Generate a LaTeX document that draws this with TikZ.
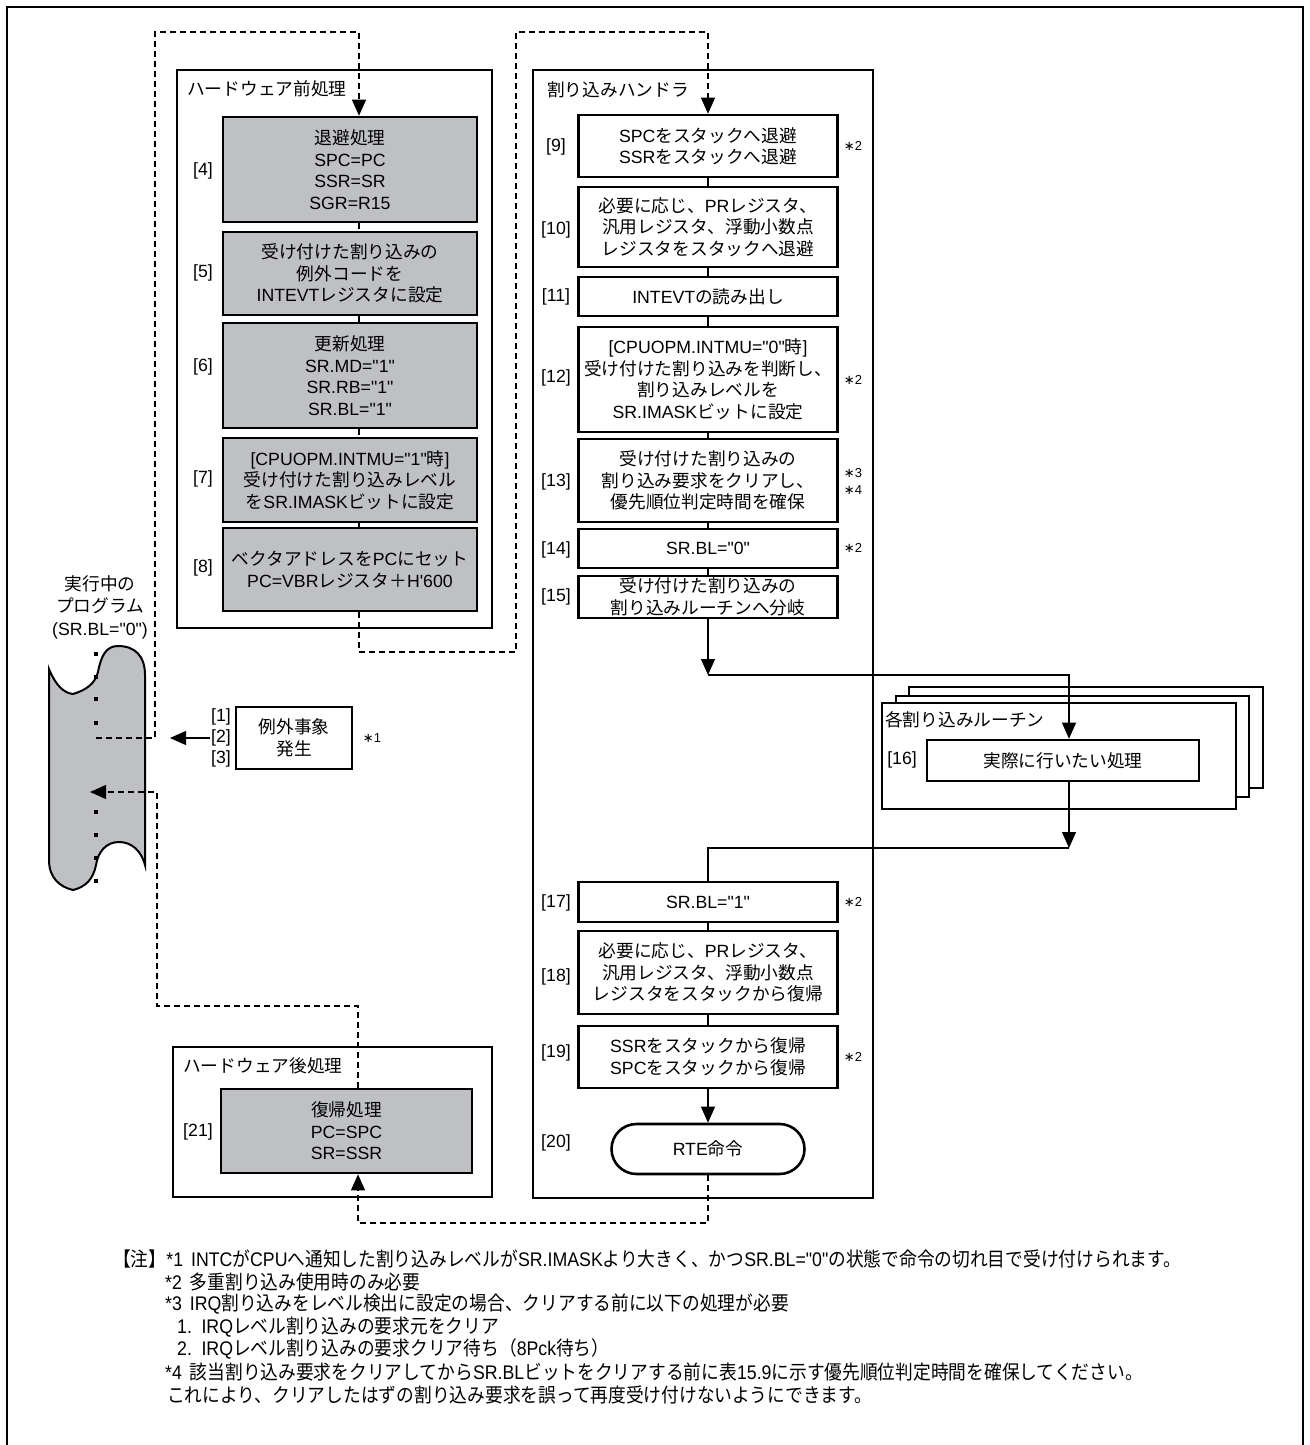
\documentclass[tikz,border=0pt]{standalone}
\usepackage{fontspec}
\setmainfont{Liberation Sans}
\newfontfamily\latinfont{Liberation Sans}
\newfontfamily\jafont{Noto Sans CJK JP}
\newfontfamily\symfont{DejaVu Sans}
\newfontfamily\notelatin[FakeStretch=0.9]{Liberation Sans}
\newfontfamily\noteja[FakeStretch=0.9]{Noto Sans CJK JP}
\usetikzlibrary{arrows.meta}

% switch to the Japanese font for CJK characters
\XeTeXinterchartokenstate=1
\chardef\jaclass=7
\newcount\jacnt
\newcommand\jarange[2]{\jacnt=#1\relax
  \loop\XeTeXcharclass\jacnt=\jaclass
  \ifnum\jacnt<#2\relax\advance\jacnt by 1\relax\repeat}
\jarange{"3000}{"30FF}
\jarange{"4E00}{"9FFF}
\jarange{"FF00}{"FFEF}
\newcommand\jaon{\jafont}
\newcommand\jaoff{\latinfont}
\XeTeXinterchartoks 0 \jaclass = {\jaon}
\XeTeXinterchartoks 4095 \jaclass = {\jaon}
\XeTeXinterchartoks \jaclass 0 = {\jaoff}
\XeTeXinterchartoks \jaclass 4095 = {\jaoff}

\definecolor{boxgray}{RGB}{190,192,196}
\newcommand\boxfont{\fontsize{17.7}{21.5}\selectfont\latinfont}
\newcommand\progfont{\fontsize{17.7}{22.5}\selectfont\latinfont}
\newcommand\starfont{\fontsize{13}{14}\selectfont\latinfont}
\newcommand\notefont{\fontsize{19.7}{23}\selectfont\let\jaon\noteja\let\jaoff\notelatin\notelatin}
\newcommand\notemark[1]{{\symfont ∗}#1}

\begin{document}
\begin{tikzpicture}[x=1pt,y=-1pt,
    box/.style={draw,line width=2.6pt,align=center,inner sep=0pt,font=\boxfont},
    gbox/.style={box,fill=boxgray},
    wbox/.style={box,fill=white},
    frame/.style={draw,line width=2.6pt},
    num/.style={inner sep=1pt,font=\boxfont},
    ttl/.style={anchor=west,inner sep=0pt,font=\boxfont},
    fnote/.style={inner sep=0pt,font=\starfont},
    note/.style={anchor=west,inner sep=0pt,font=\notefont},
    flow/.style={line width=1.2pt},
    dline/.style={line width=1.2pt,dash pattern=on 6pt off 4pt},
    arr/.style={-{Triangle[length=16pt,width=14pt]}}]
  \useasboundingbox (0,0) rectangle (1309,1445);
  % outer frame
  \draw[line width=2.4pt] (7,1445) -- (7,7) -- (1303,7) -- (1303,1445);

  % running program
  \draw[line width=2pt,fill=boxgray] (49,669) .. controls (56,686) and (64,693) .. (73,694)
    .. controls (86,690) and (95,684) .. (98,672) .. controls (101,656) and (106,646) .. (118,646)
    .. controls (135,646) and (145,656) .. (145,675) -- (145,865)
    .. controls (141,850) and (131,842) .. (119,842) .. controls (106,842) and (98,852) .. (96,865)
    .. controls (93,880) and (85,887) .. (73,890) .. controls (60,887) and (49,878) .. (49,860) -- cycle;
  \foreach \y in {654,677,699,723,812,835,858,881}
    \fill (96,\y) +(-1.6,-1.6) rectangle +(1.6,1.6);
  \node[align=center,font=\progfont] (prog) at (100,607) {実行中の\\プログラム\\(SR.BL="0")};

  % containers
  \node[frame,minimum width=315,minimum height=558] (hpre) at (334.5,349) {};
  \node[ttl] (tpre) at (187,89) {ハードウェア前処理};
  \node[frame,minimum width=340,minimum height=1128] (hand) at (703,634) {};
  \node[ttl] (thand) at (547,90) {割り込みハンドラ};
  \node[frame,minimum width=319,minimum height=150] (hpost) at (332.5,1122) {};
  \node[ttl] (tpost) at (183,1066) {ハードウェア後処理};
  \draw[frame,fill=white] (909,687) rectangle (1263,788);
  \draw[frame,fill=white] (896,696) rectangle (1249,797);
  \node[frame,fill=white,minimum width=354,minimum height=106] (rt) at (1059,756) {};
  \node[ttl] (trt) at (885,720) {各割り込みルーチン};

  % connectors
  \coordinate (p1) at (96,738);
  \coordinate (d1) at (155,32);
  \coordinate (d2) at (516,652);
  \coordinate (d3) at (516,32);
  \coordinate (d4) at (358,1223);
  \coordinate (d5) at (157,1006);
  \coordinate (p2) at (90,792);
  \coordinate (p3) at (170,738);
  \coordinate (q1) at (708,675);
  \coordinate (q2) at (1069,848);

  % hardware pre-processing
  \node[gbox,minimum width=254,minimum height=105] (n4) at (350,169.5) {退避処理\\SPC=PC\\SSR=SR\\SGR=R15};
  \node[gbox,minimum width=254,minimum height=83] (n5) at (350,273.5) {受け付けた割り込みの\\例外コードを\\INTEVTレジスタに設定};
  \node[gbox,minimum width=254,minimum height=105] (n6) at (350,375.5) {更新処理\\SR.MD="1"\\SR.RB="1"\\SR.BL="1"};
  \node[gbox,minimum width=254,minimum height=84] (n7) at (350,480) {[CPUOPM.INTMU="1"時]\\受け付けた割り込みレベル\\をSR.IMASKビットに設定};
  \node[gbox,minimum width=254,minimum height=83] (n8) at (350,569.5) {ベクタアドレスをPCにセット\\PC=VBRレジスタ＋H\char"27 600};
  \node[num] (l4) at (203,171) {[4]};
  \node[num] (l5) at (203,273) {[5]};
  \node[num] (l6) at (203,367) {[6]};
  \node[num] (l7) at (203,479) {[7]};
  \node[num] (l8) at (203,568) {[8]};

  % exception
  \node[wbox,minimum width=116,minimum height=62] (exc) at (294,738) {例外事象\\発生};
  \node[num] (l1) at (221,717) {[1]};
  \node[num] (l2) at (221,738) {[2]};
  \node[num] (l3) at (221,759) {[3]};
  \node[fnote] (s1) at (372,738) {\notemark{1}};

  % interrupt handler
  \node[wbox,minimum width=259,minimum height=62] (n9) at (708,146) {SPCをスタックへ退避\\SSRをスタックへ退避};
  \node[wbox,minimum width=259,minimum height=80] (n10) at (708,227) {必要に応じ、PRレジスタ、\\汎用レジスタ、浮動小数点\\レジスタをスタックへ退避};
  \node[wbox,minimum width=259,minimum height=39] (n11) at (708,296.5) {INTEVTの読み出し};
  \node[wbox,minimum width=259,minimum height=105] (n12) at (708,379.5) {[CPUOPM.INTMU="0"時]\\受け付けた割り込みを判断し、\\割り込みレベルを\\SR.IMASKビットに設定};
  \node[wbox,minimum width=259,minimum height=83] (n13) at (708,480.5) {受け付けた割り込みの\\割り込み要求をクリアし、\\優先順位判定時間を確保};
  \node[wbox,minimum width=259,minimum height=39] (n14) at (708,548.5) {SR.BL="0"};
  \node[wbox,minimum width=259,minimum height=42] (n15) at (708,597) {受け付けた割り込みの\\割り込みルーチンへ分岐};
  \node[wbox,minimum width=272,minimum height=41] (n16) at (1063,760.5) {実際に行いたい処理};
  \node[wbox,minimum width=259,minimum height=40] (n17) at (708,902) {SR.BL="1"};
  \node[wbox,minimum width=259,minimum height=83] (n18) at (708,972.5) {必要に応じ、PRレジスタ、\\汎用レジスタ、浮動小数点\\レジスタをスタックから復帰};
  \node[wbox,minimum width=259,minimum height=62] (n19) at (708,1057) {SSRをスタックから復帰\\SPCをスタックから復帰};
  \node[wbox,rounded corners=25pt,minimum width=193,minimum height=50] (rte) at (708,1149) {RTE命令};
  \node[num] (l9) at (556,147) {[9]};
  \node[num] (l10) at (556,230) {[10]};
  \node[num] (l11) at (556,297) {[11]};
  \node[num] (l12) at (556,378) {[12]};
  \node[num] (l13) at (556,482) {[13]};
  \node[num] (l14) at (556,550) {[14]};
  \node[num] (l15) at (556,597) {[15]};
  \node[num] (l16) at (902,760) {[16]};
  \node[num] (l17) at (556,903) {[17]};
  \node[num] (l18) at (556,977) {[18]};
  \node[num] (l19) at (556,1053) {[19]};
  \node[num] (l20) at (556,1143) {[20]};
  \node[fnote] (s9) at (853,146) {\notemark{2}};
  \node[fnote] (s12) at (853,380) {\notemark{2}};
  \node[fnote] (s13a) at (853,473) {\notemark{3}};
  \node[fnote] (s13b) at (853,490) {\notemark{4}};
  \node[fnote] (s14) at (853,548) {\notemark{2}};
  \node[fnote] (s17) at (853,902) {\notemark{2}};
  \node[fnote] (s19) at (853,1057) {\notemark{2}};

  % hardware post-processing
  \node[gbox,minimum width=251,minimum height=84] (n21) at (346.5,1131) {復帰処理\\PC=SPC\\SR=SSR};
  \node[num] (l21) at (198,1132) {[21]};

  % dashed flow
  \draw[dline,arr] (p1) -| (d1) -| ([xshift=9pt]n4.north);
  \foreach \a/\b in {n4/n5,n5/n6,n6/n7,n7/n8}
    \draw[dline] ([xshift=9pt]\a.south) -- ([xshift=9pt]\b.north);
  \draw[dline,arr] ([xshift=9pt]n8.south) |- (d2) -- (d3) -| (n9.north);
  \draw[dline,arr] (rte.south) |- (d4) -- ([xshift=11.5pt]n21.south);
  \draw[dline,arr] ([xshift=11.5pt]n21.north) |- (d5) |- (p2);

  % solid flow
  \draw[flow,arr] (l2.west) -- (p3);
  \foreach \a/\b in {n9/n10,n10/n11,n11/n12,n12/n13,n13/n14,n14/n15,n17/n18,n18/n19}
    \draw[flow] (\a.south) -- (\b.north);
  \draw[flow,arr] (n15.south) -- (q1);
  \draw[flow,arr] (q1) -| ([xshift=6pt]n16.north);
  \draw[flow,arr] ([xshift=6pt]n16.south) -- (q2);
  \draw[flow] (q2) -| (n17.north);
  \draw[flow,arr] (n19.south) -- (rte.north);

  % notes
  \node[note] (nt1) at (113,1259) {【注】*1\hspace{3pt} INTCがCPUへ通知した割り込みレベルがSR.IMASKより大きく、かつSR.BL="0"の状態で命令の切れ目で受け付けられます。};
  \node[note] (nt2) at (165,1281.6) {*2\hspace{3pt} 多重割り込み使用時のみ必要};
  \node[note] (nt3) at (165,1304.2) {*3\hspace{3pt} IRQ割り込みをレベル検出に設定の場合、クリアする前に以下の処理が必要};
  \node[note] (nt4) at (177,1326.8) {1.\hspace{3pt} IRQレベル割り込みの要求元をクリア};
  \node[note] (nt5) at (177,1349.4) {2.\hspace{3pt} IRQレベル割り込みの要求クリア待ち（8Pck待ち）};
  \node[note] (nt6) at (165,1372) {*4\hspace{3pt} 該当割り込み要求をクリアしてからSR.BLビットをクリアする前に表15.9に示す優先順位判定時間を確保してください。};
  \node[note] (nt7) at (167,1394.6) {これにより、クリアしたはずの割り込み要求を誤って再度受け付けないようにできます。};
\end{tikzpicture}
\end{document}
